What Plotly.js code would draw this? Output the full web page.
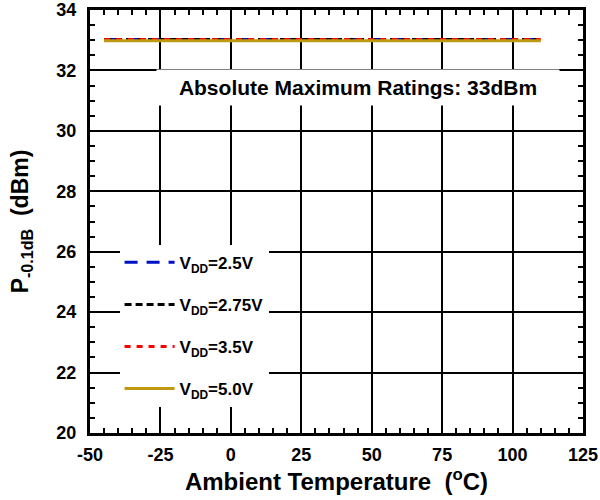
<!DOCTYPE html>
<html>
<head>
<meta charset="utf-8">
<script src="https://cdn.plot.ly/plotly-3.0.1.min.js"></script>
<style>html,body{margin:0;padding:0;background:#fff;}#chart{width:600px;height:500px;}</style>
</head>
<body>
<div id="chart"></div>
<script>
// Data
const temperature = [-45, 25, 110];
const vdd25 = [33.02, 33.02, 33.02];
const vdd275 = [33.02, 33.02, 33.02];
const vdd35 = [33.02, 33.02, 33.02];
const vdd50 = [32.98, 32.98, 32.98];
const seriesNames = ['V<sub>DD</sub>=2.5V', 'V<sub>DD</sub>=2.75V', 'V<sub>DD</sub>=3.5V', 'V<sub>DD</sub>=5.0V'];
const xTicks = [-50, -25, 0, 25, 50, 75, 100, 125];
const yTicks = [20, 22, 24, 26, 28, 30, 32, 34];
const noteText = 'Absolute Maximum Ratings: 33dBm';

const FONT = 'Liberation Sans, Arial, Helvetica, sans-serif';
const styles = [
  {color: '#0010C8', dash: '13px,9px'},
  {color: '#000000', dash: '7px,4px'},
  {color: '#FF0000', dash: '6px,6px'},
  {color: '#BF9A10', dash: 'solid'}
];
const seriesData = [vdd25, vdd275, vdd35, vdd50];
const traces = seriesData.map((ys, i) => ({
  x: temperature, y: ys, type: 'scatter', mode: 'lines',
  name: seriesNames[i], legendgroup: 'g' + i,
  line: {color: styles[i].color, dash: styles[i].dash, width: 3}
}));

const axisCommon = {
  showline: true, linecolor: '#000', linewidth: 3, mirror: 'ticks',
  showgrid: true, gridcolor: '#000', gridwidth: 2,
  ticks: 'inside', ticklen: 8, tickwidth: 2, tickcolor: '#000',
  zeroline: false,
  tickfont: {family: FONT, size: 18, color: '#000', weight: 'bold'}
};

const layout = {
  width: 600, height: 500,
  margin: {l: 90, r: 17, t: 10, b: 67},
  paper_bgcolor: '#fff', plot_bgcolor: '#fff',
  showlegend: true,
  legend: {
    x: 0.06, y: 0.445, xanchor: 'left', yanchor: 'top',
    bgcolor: '#fff', borderwidth: 0, tracegroupgap: 17, itemwidth: 50,
    font: {family: FONT, size: 17, color: '#000', weight: 'bold'}
  },
  xaxis: Object.assign({}, axisCommon, {
    range: [-50, 125], tickvals: xTicks, ticktext: xTicks.map(String),
    ticklabelstandoff: 3,
    minor: {dtick: 5, ticks: 'inside', ticklen: 5, tickwidth: 2, tickcolor: '#000', showgrid: false},
    title: {text: 'Ambient Temperature  (<sup>o</sup>C)', standoff: 7,
      font: {family: FONT, size: 24, color: '#000', weight: 'bold'}}
  }),
  yaxis: Object.assign({}, axisCommon, {
    range: [20, 34], tickvals: yTicks, ticktext: yTicks.map(String),
    ticklabelstandoff: 7,
    minor: {dtick: 0.5, ticks: 'inside', ticklen: 5, tickwidth: 2, tickcolor: '#000', showgrid: false},
    title: {text: 'P<sub>-0.1dB</sub>  (dBm)', standoff: 22,
      font: {family: FONT, size: 23, color: '#000', weight: 'bold'}}
  }),
  annotations: [{
    x: 45, y: 31.45, xref: 'x', yref: 'y', text: noteText, showarrow: false,
    width: 400, height: 33, bgcolor: '#fff',
    font: {family: FONT, size: 21, color: '#000', weight: 'bold'}
  }]
};

Plotly.newPlot('chart', traces, layout, {displayModeBar: false, staticPlot: true});
</script>
</body>
</html>
